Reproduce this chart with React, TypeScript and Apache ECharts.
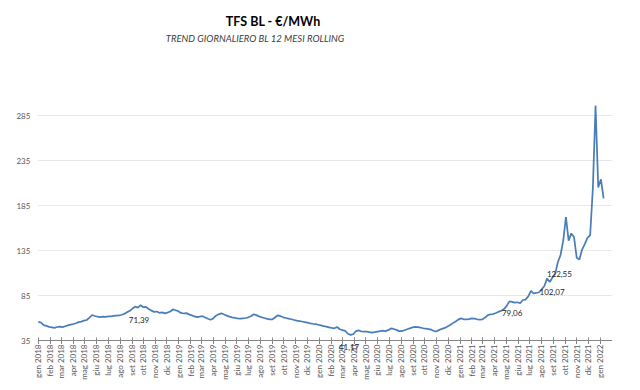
import React, { useEffect, useRef } from 'react';
import * as echarts from 'echarts';

// Weekly samples (every 7 days from 2018-01-01) of the 12-month rolling baseload price, €/MWh
const START_DATE = '2018-01-01';
const AXIS_END_DATE = '2022-01-31';
const WEEKLY_VALUES: number[] = [
  55.6, 54.8, 52.0, 51.2, 50.2, 49.6, 49.0, 50.0, 50.4, 49.8,
  50.8, 51.8, 52.6, 53.3, 54.2, 55.4, 56.0, 57.0, 57.8, 60.5,
  63.3, 62.2, 61.4, 61.0, 61.6, 61.2, 61.8, 61.9, 62.4, 62.6,
  62.8, 63.6, 64.6, 66.5, 68.0, 70.5, 72.6, 71.5, 74.2, 72.0,
  72.4, 70.0, 68.2, 66.8, 67.2, 65.8, 66.3, 65.2, 66.0, 67.2,
  69.5, 68.6, 67.6, 65.6, 65.0, 65.4, 64.0, 63.0, 61.8, 60.9,
  61.6, 62.0, 60.6, 59.2, 58.0, 59.5, 62.6, 64.1, 65.2, 63.9,
  62.6, 61.6, 60.8, 60.1, 59.6, 59.2, 59.6, 60.0, 60.8, 62.0,
  64.2, 63.2, 61.8, 60.8, 60.0, 59.0, 58.4, 58.6, 60.8, 63.0,
  62.0, 60.8, 60.0, 59.2, 58.6, 57.8, 57.0, 56.6, 56.1, 55.5,
  54.8, 54.1, 53.6, 53.2, 52.5, 51.8, 51.0, 50.5, 49.5, 49.0,
  48.6, 50.0, 47.5, 46.5, 45.6, 42.5, 41.2, 42.0, 45.5, 46.2,
  45.0, 44.8, 44.8, 44.2, 43.8, 44.3, 44.9, 45.5, 46.0, 45.5,
  46.5, 48.4, 47.8, 46.8, 45.4, 45.4, 46.4, 47.5, 48.5, 49.5,
  50.2, 49.8, 49.2, 48.6, 48.3, 47.7, 47.0, 45.5, 45.2, 46.8,
  48.0, 49.0, 50.6, 52.2, 54.3, 56.2, 58.2, 59.6, 58.6, 58.6,
  58.8, 59.6, 59.2, 58.6, 58.2, 58.6, 60.5, 63.3, 64.0, 64.4,
  65.5, 67.0, 68.0, 69.9, 73.5, 78.5, 78.0, 77.0, 77.5, 76.4,
  80.0, 80.5, 84.0, 90.0, 87.4, 87.8, 88.6, 91.8, 95.5, 104.0,
  100.0, 105.0, 109.0, 122.0, 130.0, 146.0, 172.0, 146.0, 154.0, 150.0,
  127.0, 125.0, 136.0, 142.0, 149.0, 152.0, 204.0, 296.0, 205.0, 214.0, 193.0,
];

const MONTH_NAMES = ['gen', 'feb', 'mar', 'apr', 'mag', 'giu', 'lug', 'ago', 'set', 'ott', 'nov', 'dic'];
const FIRST_TICK_YEAR = 2018;
const LAST_TICK_YEAR = 2022;
const LAST_TICK_MONTH = 0;

const Y_MIN = 35;
const Y_MAX = 300;
const Y_STEP = 50;

const LABEL_DATES = ['2018-09-20', '2020-03-19', '2021-05-17', '2021-08-29', '2021-09-17'];
const LABEL_VALUES = [71.39, 41.17, 79.06, 102.07, 122.55];

const TITLE = 'TFS BL - €/MWh';
const SUBTITLE = 'TREND GIORNALIERO BL 12 MESI ROLLING';

const DAY_MS = 86400000;

function buildMonthTicks(): number[] {
  const out: number[] = [];
  for (let y = FIRST_TICK_YEAR; y <= LAST_TICK_YEAR; y++) {
    for (let m = 0; m < 12; m++) {
      if (y === LAST_TICK_YEAR && m > LAST_TICK_MONTH) break;
      out.push(Date.UTC(y, m, 1));
    }
  }
  return out;
}

function monthLabel(v: number): string {
  const d = new Date(Math.round(v / DAY_MS) * DAY_MS + DAY_MS / 2);
  return MONTH_NAMES[d.getUTCMonth()] + ' ' + d.getUTCFullYear();
}

export default function App() {
  const ref = useRef<HTMLDivElement>(null);

  useEffect(() => {
    if (!ref.current) return;
    const chart = echarts.init(ref.current, undefined, { renderer: 'svg' });
    const start = Date.parse(START_DATE);
    const end = Date.parse(AXIS_END_DATE);
    const data = WEEKLY_VALUES.map((v, i) => [start + i * 7 * DAY_MS, v]);
    const ticks = buildMonthTicks();
    const font = 'Lato';
    const axisColor = '#868686';

    const option: any = {
      animation: false,
      backgroundColor: '#ffffff',
      textStyle: { fontFamily: font },
      grid: {
        left: 38.3,
        right: 28.3,
        top: 102,
        bottom: 49.5,
        containLabel: false,
        outerBoundsMode: 'none',
      },
      xAxis: [
        {
          type: 'value',
          position: 'bottom',
          min: start,
          max: end,
          axisLine: { show: true, lineStyle: { color: axisColor, width: 1 } },
          axisTick: { show: true, customValues: ticks, length: 3.5, lineStyle: { color: axisColor } },
          axisLabel: {
            customValues: ticks,
            rotate: 90,
            fontSize: 8,
            color: '#595959',
            fontFamily: font,
            margin: 4,
            formatter: (v: number) => monthLabel(v),
          },
          splitLine: { show: false },
        },
        {
          type: 'value',
          position: 'bottom',
          offset: 0,
          min: start,
          max: end,
          axisLine: { show: false },
          axisTick: { show: true, inside: true, customValues: ticks, length: 3, lineStyle: { color: axisColor } },
          axisLabel: { show: false },
          splitLine: { show: false },
        },
      ],
      yAxis: {
        type: 'value',
        min: Y_MIN,
        max: Y_MAX,
        interval: Y_STEP,
        axisLine: { show: false },
        axisTick: { show: false },
        axisLabel: {
          fontSize: 8,
          color: '#595959',
          fontFamily: font,
          margin: 8,
          showMaxLabel: false,
        },
        splitLine: {
          show: true,
          lineStyle: {
            type: 'dotted',
            width: 1,
            color: ['#d0d0d0', '#d0d0d0', '#d0d0d0', '#d0d0d0', '#d0d0d0', '#d0d0d0', 'rgba(0,0,0,0)'],
          },
        },
      },
      series: [
        {
          type: 'line',
          xAxisIndex: 0,
          data,
          symbol: 'none',
          showSymbol: false,
          lineStyle: { color: '#4A7EBB', width: 1.75 },
          markPoint: {
            symbol: 'circle',
            symbolSize: 1,
            itemStyle: { color: 'rgba(0,0,0,0)' },
            label: {
              show: true,
              position: 'inside',
              offset: [0, 12],
              fontSize: 8,
              color: '#262626',
              fontFamily: font,
              formatter: (p: any) => Number(p.value).toFixed(2).replace('.', ','),
            },
            data: LABEL_DATES.map((d, i) => ({
              coord: [Date.parse(d), LABEL_VALUES[i]],
              value: LABEL_VALUES[i],
            })),
          },
        },
      ],
      graphic: [
        {
          type: 'text',
          x: 273,
          y: 21,
          style: {
            text: TITLE,
            font: 'bold 12.5px Lato',
            fill: '#000000',
            textAlign: 'center',
            textVerticalAlign: 'middle',
            align: 'center',
            verticalAlign: 'middle',
          },
        },
        {
          type: 'text',
          x: 255,
          y: 38.5,
          style: {
            text: SUBTITLE,
            font: 'italic 9.5px Lato',
            fill: '#404040',
            textAlign: 'center',
            textVerticalAlign: 'middle',
            align: 'center',
            verticalAlign: 'middle',
          },
        },
      ],
    };

    chart.setOption(option);
    return () => chart.dispose();
  }, []);

  return (
    <div
      ref={ref}
      style={{ position: 'fixed', left: 0, top: 0, width: 640, height: 390, background: '#fff' }}
    />
  );
}
